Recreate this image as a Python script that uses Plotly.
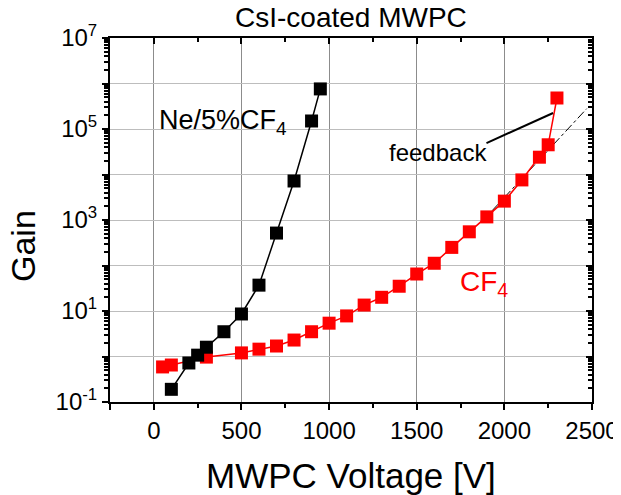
import plotly.graph_objects as go

# ---- data ----
ne_voltage = [100, 200, 250, 300, 400, 500, 600, 700, 800, 900, 950]
ne_gain = [0.19, 0.72, 1.07, 1.6, 3.5, 8.6, 37, 516, 7200, 150000, 760000]

cf4_voltage = [50, 100, 300, 500, 600, 700, 800, 900, 1000, 1100, 1200, 1300,
               1400, 1500, 1600, 1700, 1800, 1900, 2000, 2100, 2200, 2250, 2300]
cf4_gain = [0.59, 0.65, 0.97, 1.2, 1.45, 1.7, 2.3, 3.5, 5.4, 7.8, 13.5, 20,
            35, 65, 112, 250, 550, 1170, 2600, 7600, 24000, 45000, 480000]

fit_voltage = [1930, 2470]
fit_gain = [1600, 280000]

pointer_voltage = [1898, 2278]
pointer_gain = [49000, 225000]

x_tickvals = [-250, 0, 500, 1000, 1500, 2000, 2500]
x_ticktext = ["", "0", "500", "1000", "1500", "2000", "2500"]
y_tickvals = [1e-1, 1e0, 1e1, 1e2, 1e3, 1e4, 1e5, 1e6, 1e7]
y_ticktext = ["10<sup>-1</sup>", "", "10<sup>1</sup>", "", "10<sup>3</sup>", "",
              "10<sup>5</sup>", "", "10<sup>7</sup>"]

FONT = "Liberation Sans, Arial, sans-serif"
minor_y = [m * 10 ** e for e in range(-1, 7) for m in range(2, 10)]

fig = go.Figure()

fig.add_trace(go.Scatter(
    x=fit_voltage, y=fit_gain, mode="lines",
    line=dict(color="black", width=1, dash="dashdot"),
    showlegend=False, hoverinfo="skip"))

fig.add_trace(go.Scatter(
    x=cf4_voltage, y=cf4_gain, mode="lines+markers",
    line=dict(color="#ff0000", width=1.5),
    marker=dict(symbol="square", size=13, color="#ff0000"),
    showlegend=False))

fig.add_trace(go.Scatter(
    x=ne_voltage, y=ne_gain, mode="lines+markers",
    line=dict(color="black", width=1.5),
    marker=dict(symbol="square", size=13, color="black"),
    showlegend=False))

fig.add_trace(go.Scatter(
    x=pointer_voltage, y=pointer_gain, mode="lines",
    line=dict(color="black", width=2),
    showlegend=False, hoverinfo="skip"))

# helper empty trace for mirrored axes
fig.add_trace(go.Scatter(x=[None], y=[None], xaxis="x2", yaxis="y2",
                         showlegend=False, hoverinfo="skip"))

fig.update_layout(
    width=621, height=495,
    margin=dict(l=102, r=37, t=30, b=101, autoexpand=False),
    paper_bgcolor="white", plot_bgcolor="white",
    font=dict(family=FONT, color="black"),
    xaxis=dict(
        range=[-250, 2500], tickvals=x_tickvals, ticktext=x_ticktext,
        ticks="outside", ticklen=6, tickwidth=1.5, tickcolor="black",
        tickfont=dict(size=24, family=FONT), automargin=False,
        showgrid=True, gridcolor="#8c8c8c", gridwidth=1,
        showline=True, linecolor="black", linewidth=2,
        minor=dict(dtick=250, tick0=0, ticks="outside", ticklen=4,
                   tickcolor="black", showgrid=False),
        zeroline=False,
    ),
    yaxis=dict(
        type="log", range=[-1, 7], tickvals=y_tickvals, ticktext=y_ticktext,
        ticks="outside", ticklen=6, tickwidth=1.5, tickcolor="black",
        tickfont=dict(size=24, family=FONT), automargin=False,
        showgrid=True, gridcolor="#bdbdbd", gridwidth=1,
        showline=True, linecolor="black", linewidth=2,
        minor=dict(tickvals=minor_y, ticks="outside", ticklen=4,
                   tickcolor="black", showgrid=False),
        zeroline=False,
    ),
    xaxis2=dict(
        overlaying="x", side="top", range=[-250, 2500], automargin=False,
        tickvals=x_tickvals, ticks="inside", ticklen=6, tickwidth=1.5,
        tickcolor="black", showticklabels=False, showgrid=False,
        showline=True, linecolor="black", linewidth=2, zeroline=False,
        minor=dict(dtick=250, tick0=0, ticks="inside", ticklen=4, tickcolor="black"),
    ),
    yaxis2=dict(
        overlaying="y", side="right", type="log", range=[-1, 7], automargin=False,
        tickvals=y_tickvals, ticks="inside", ticklen=6, tickwidth=1.5,
        tickcolor="black", showticklabels=False, showgrid=False,
        showline=True, linecolor="black", linewidth=2, zeroline=False,
        minor=dict(tickvals=minor_y, ticks="inside", ticklen=4, tickcolor="black"),
    ),
    annotations=[
        dict(text="CsI-coated MWPC", xref="paper", yref="paper",
             x=0.5, y=1 + 20 / 364, xanchor="center", yanchor="middle",
             showarrow=False, font=dict(size=28, family=FONT)),
        dict(text="MWPC Voltage [V]", xref="paper", yref="paper",
             x=0.5, y=-73 / 364, xanchor="center", yanchor="middle",
             showarrow=False, font=dict(size=35, family=FONT)),
        dict(text="Gain", xref="paper", yref="paper",
             x=-87 / 482, y=(402 - 246) / 364, xanchor="center", yanchor="middle",
             textangle=-90, showarrow=False, font=dict(size=34, family=FONT)),
        dict(text="Ne/5%CF<sub>4</sub>", xref="x", yref="y",
             x=20, y=5.15, xanchor="left", yanchor="middle",
             showarrow=False, font=dict(size=27, family=FONT, color="black")),
        dict(text="CF<sub>4</sub>", xref="x", yref="y",
             x=1733, y=1.6, xanchor="left", yanchor="middle",
             showarrow=False, font=dict(size=28, family=FONT, color="#ff0000")),
        dict(text="feedback", xref="x", yref="y",
             x=1619, y=4.49, xanchor="center", yanchor="middle",
             showarrow=False, font=dict(size=24, family=FONT, color="black")),
    ],
)

fig.write_html("out.html")
